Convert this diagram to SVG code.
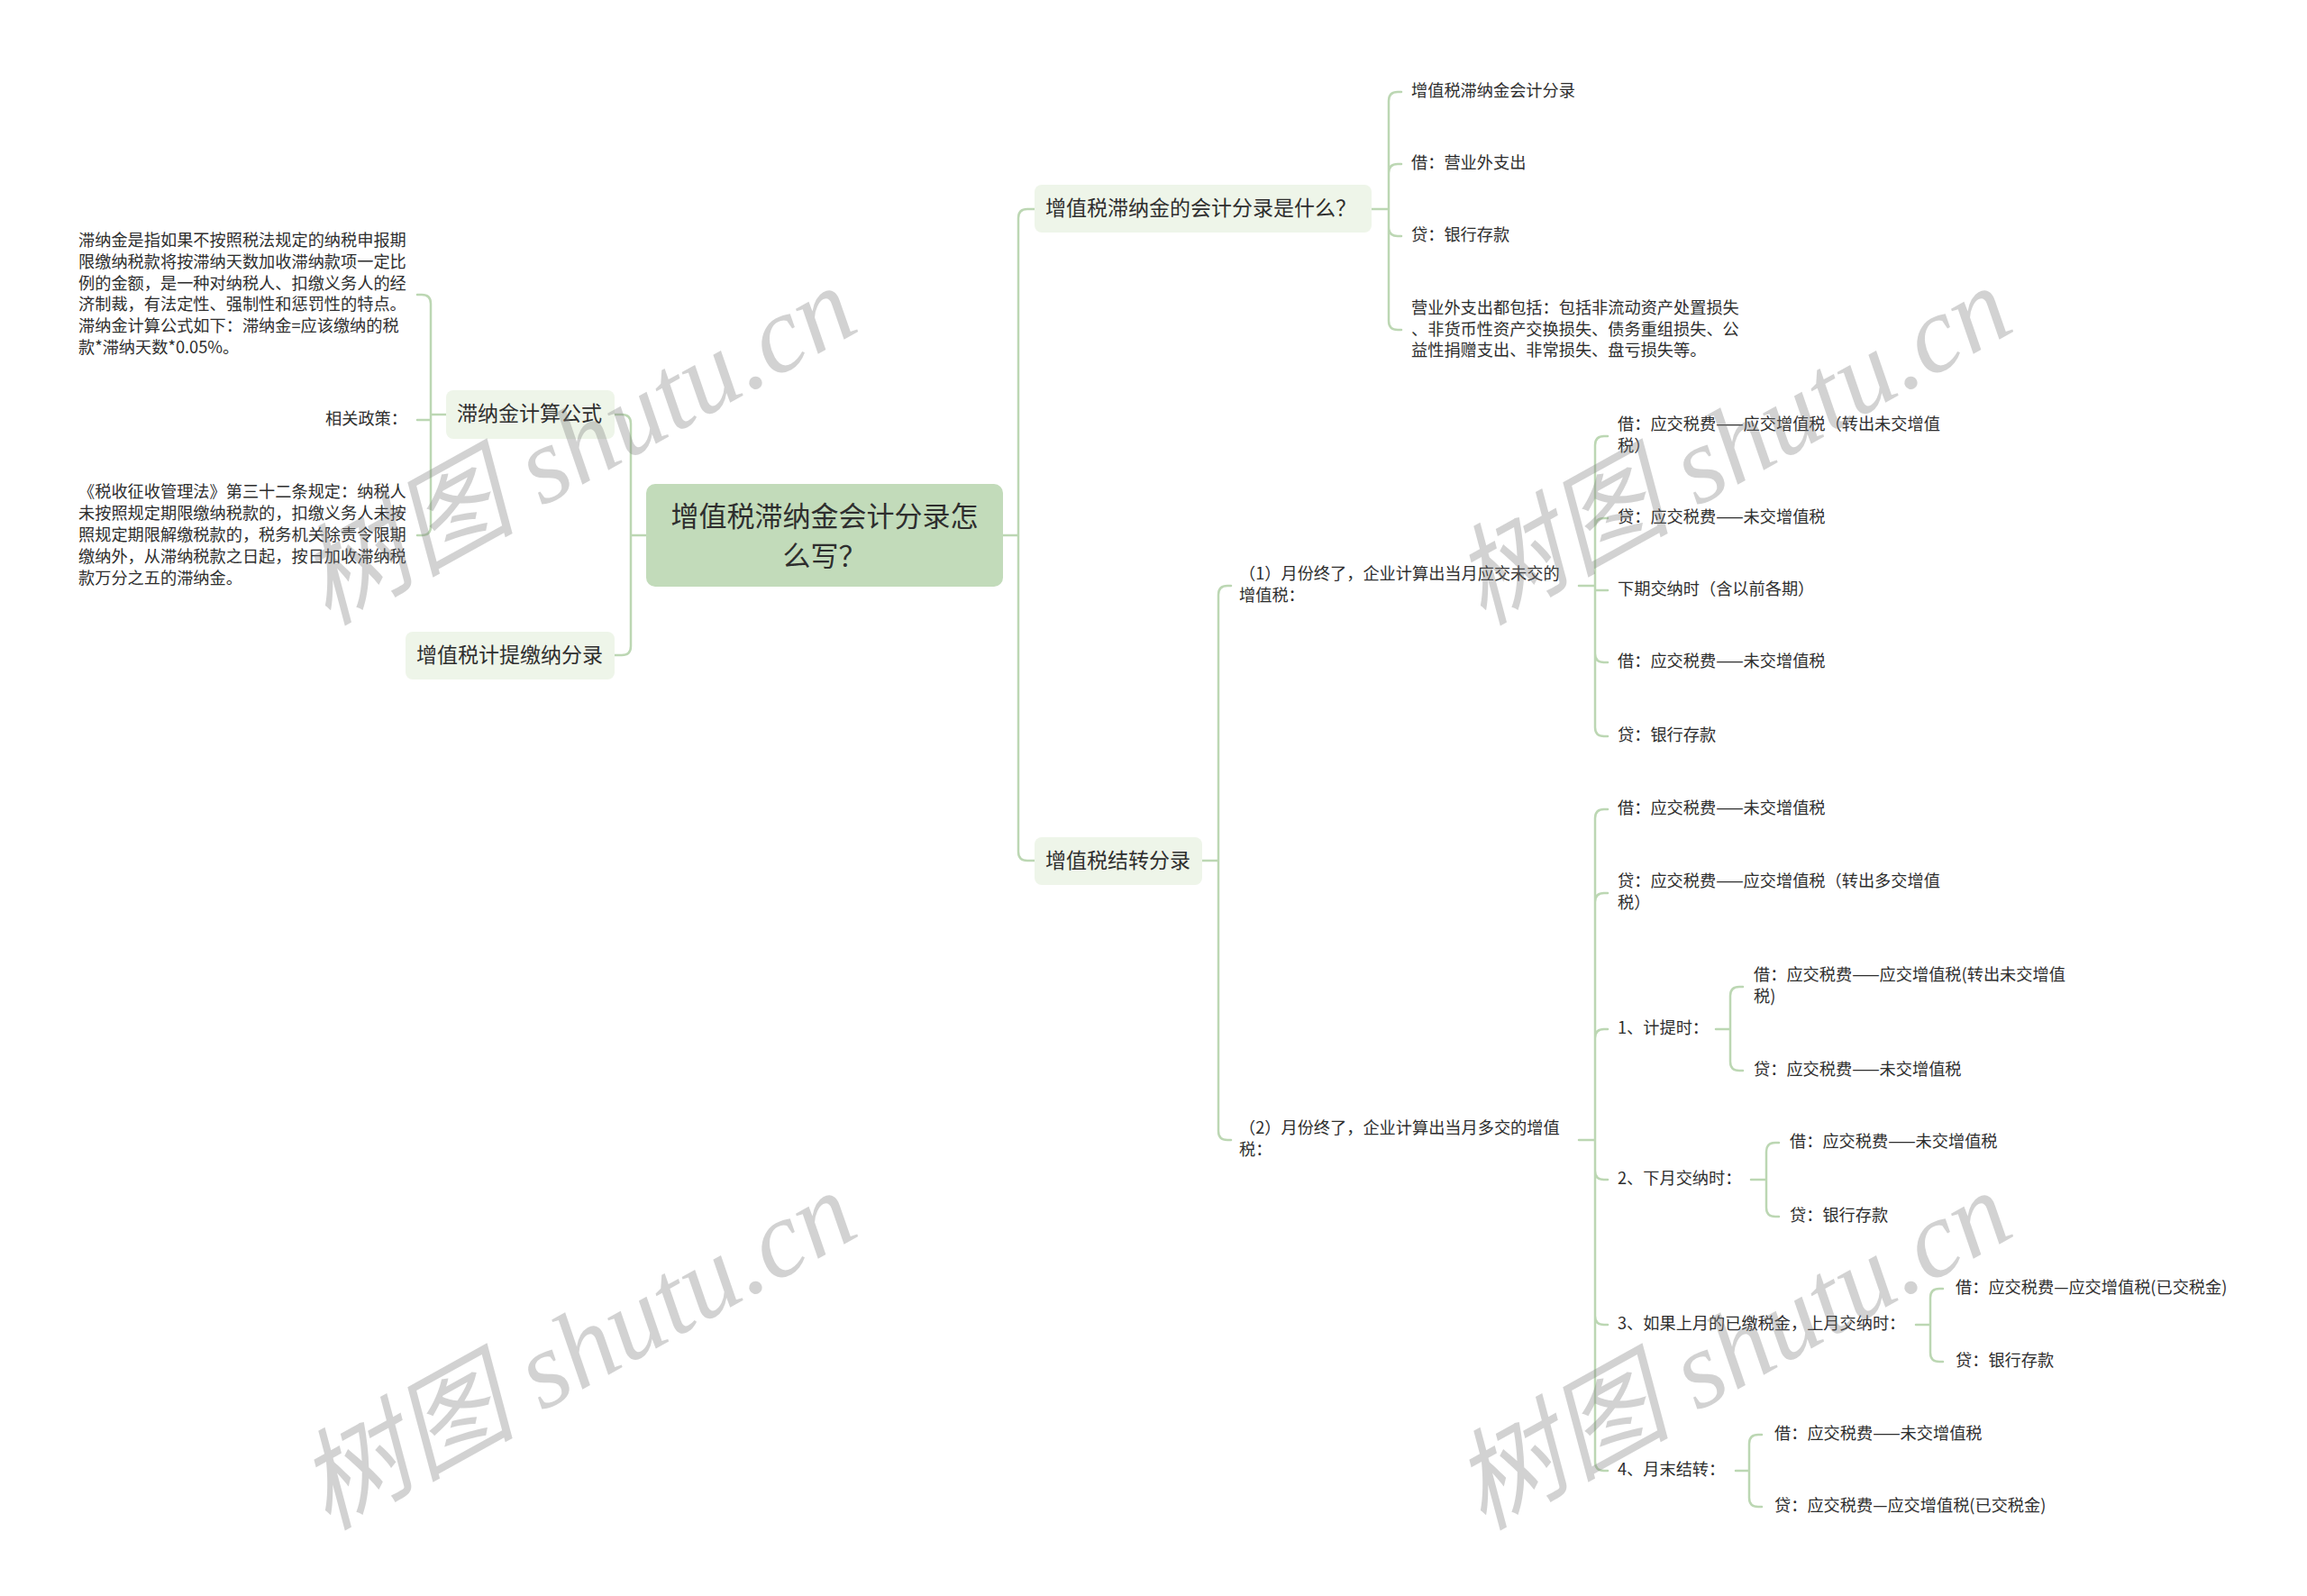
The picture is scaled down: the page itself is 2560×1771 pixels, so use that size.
<svg xmlns="http://www.w3.org/2000/svg" width="2560" height="1771" viewBox="0 0 2560 1771">
<style>
.ln{fill:none;stroke:#bcd7b3;stroke-width:2.5;stroke-linecap:round;stroke-linejoin:round}
.t{font-family:'Noto Sans CJK SC','Noto Sans',sans-serif;fill:#2e2e2e;dominant-baseline:central;transform:translate(0px,-3px)}
.s{font-size:18.2px}
.m{font-size:23px}
.r{font-size:31px}
.n1{fill:#eef5e9}
.root{fill:#c2dbba}
.wm{font-family:'Liberation Serif','Noto Sans CJK SC',serif;font-style:italic;font-size:121px;fill:#7a7a7a;opacity:0.33}
</style>
<rect width="2560" height="1771" fill="#ffffff"/>
<g id="connectors">
<path class="ln" d="M717,594 H700 M700,594 V470 Q700,460 690,460 H682 M700,594 V717 Q700,727 690,727 H682"/>
<path class="ln" d="M1113,594 H1130 M1130,594 V242 Q1130,232 1140,232 H1148 M1130,594 V945 Q1130,955 1140,955 H1148"/>
<path class="ln" d="M495,460 H478 M478,460 V337 Q478,327 468,327 H463 M478,460 V584 Q478,594 468,594 H463 M478,466 H463"/>
<path class="ln" d="M1522,232 H1541 M1541,232 V112 Q1541,102 1551,102 H1555 M1541,232 V192 Q1541,182 1551,182 H1555 M1541,232 V252 Q1541,262 1551,262 H1555 M1541,232 V356 Q1541,366 1551,366 H1555"/>
<path class="ln" d="M1334,955 H1352 M1352,955 V660 Q1352,650 1362,650 H1366 M1352,955 V1255 Q1352,1265 1362,1265 H1366"/>
<path class="ln" d="M1752,650 H1770 M1770,650 V494 Q1770,484 1780,484 H1784 M1770,650 V585 Q1770,575 1780,575 H1784 M1770,655 H1784 M1770,650 V725 Q1770,735 1780,735 H1784 M1770,650 V807 Q1770,817 1780,817 H1784"/>
<path class="ln" d="M1752,1265 H1770 M1770,1265 V908 Q1770,898 1780,898 H1784 M1770,1265 V1001 Q1770,991 1780,991 H1784 M1770,1265 V1152 Q1770,1142 1780,1142 H1784 M1770,1265 V1299 Q1770,1309 1780,1309 H1784 M1770,1265 V1460 Q1770,1470 1780,1470 H1784 M1770,1265 V1622 Q1770,1632 1780,1632 H1784"/>
<path class="ln" d="M1904,1142 H1920 M1920,1142 V1105 Q1920,1095 1930,1095 H1934 M1920,1142 V1178 Q1920,1188 1930,1188 H1934"/>
<path class="ln" d="M1943,1309 H1960 M1960,1309 V1278 Q1960,1268 1970,1268 H1974 M1960,1309 V1340 Q1960,1350 1970,1350 H1974"/>
<path class="ln" d="M2126,1470 H2142 M2142,1470 V1440 Q2142,1430 2152,1430 H2156 M2142,1470 V1501 Q2142,1511 2152,1511 H2156"/>
<path class="ln" d="M1926,1632 H1941 M1941,1632 V1602 Q1941,1592 1951,1592 H1955 M1941,1632 V1662 Q1941,1672 1951,1672 H1955"/>
</g>
<g id="root">
<rect class="root" x="717" y="537" width="396" height="114" rx="10"/>
<text class="t r" text-anchor="middle"><tspan x="915" y="573">增值税滞纳金会计分录怎</tspan><tspan x="915" y="617">么写？</tspan></text>
</g>
<g id="n-formula">
<rect class="n1" x="495" y="433" width="187" height="54" rx="8"/>
<text class="t m" x="507" y="460">滞纳金计算公式</text>
</g>
<g id="n-entry">
<rect class="n1" x="450" y="701" width="232" height="53" rx="8"/>
<text class="t m" x="462" y="727.5">增值税计提缴纳分录</text>
</g>
<g id="n-what">
<rect class="n1" x="1148" y="205" width="374" height="53" rx="8"/>
<text class="t m" x="1160" y="232">增值税滞纳金的会计分录是什么？</text>
</g>
<g id="n-transfer">
<rect class="n1" x="1148" y="929" width="186" height="53" rx="8"/>
<text class="t m" x="1160" y="955.5">增值税结转分录</text>
</g>
<g id="leaf-p1">
<text class="t s"><tspan x="87" y="268">滞纳金是指如果不按照税法规定的纳税申报期</tspan><tspan x="87" y="291.8">限缴纳税款将按滞纳天数加收滞纳款项一定比</tspan><tspan x="87" y="315.6">例的金额，是一种对纳税人、扣缴义务人的经</tspan><tspan x="87" y="339.4">济制裁，有法定性、强制性和惩罚性的特点。</tspan><tspan x="87" y="363.2">滞纳金计算公式如下：滞纳金=应该缴纳的税</tspan><tspan x="87" y="387">款*滞纳天数*0.05%。</tspan></text>
</g>
<g id="leaf-policy">
<text class="t s" x="452" y="466" text-anchor="end">相关政策：</text>
</g>
<g id="leaf-p2">
<text class="t s"><tspan x="87" y="547.4">《税收征收管理法》第三十二条规定：纳税人</tspan><tspan x="87" y="571.2">未按照规定期限缴纳税款的，扣缴义务人未按</tspan><tspan x="87" y="595">照规定期限解缴税款的，税务机关除责令限期</tspan><tspan x="87" y="618.8">缴纳外，从滞纳税款之日起，按日加收滞纳税</tspan><tspan x="87" y="642.6">款万分之五的滞纳金。</tspan></text>
</g>
<g id="leaf-r1">
<text class="t s" x="1566" y="102">增值税滞纳金会计分录</text>
<text class="t s" x="1566" y="182">借：营业外支出</text>
<text class="t s" x="1566" y="262">贷：银行存款</text>
<text class="t s"><tspan x="1566" y="342.7">营业外支出都包括：包括非流动资产处置损失</tspan><tspan x="1566" y="366.5">、非货币性资产交换损失、债务重组损失、公</tspan><tspan x="1566" y="390.3">益性捐赠支出、非常损失、盘亏损失等。</tspan></text>
</g>
<g id="sub-1">
<text class="t s"><tspan x="1375" y="638">（1）月份终了，企业计算出当月应交未交的</tspan><tspan x="1375" y="662">增值税：</tspan></text>
<text class="t s"><tspan x="1795" y="472">借：应交税费——应交增值税（转出未交增值</tspan><tspan x="1795" y="496">税）</tspan></text>
<text class="t s" x="1795" y="575">贷：应交税费——未交增值税</text>
<text class="t s" x="1795" y="655">下期交纳时（含以前各期）</text>
<text class="t s" x="1795" y="735">借：应交税费——未交增值税</text>
<text class="t s" x="1795" y="817">贷：银行存款</text>
</g>
<g id="sub-2">
<text class="t s"><tspan x="1375" y="1253">（2）月份终了，企业计算出当月多交的增值</tspan><tspan x="1375" y="1277">税：</tspan></text>
<text class="t s" x="1795" y="898">借：应交税费——未交增值税</text>
<text class="t s"><tspan x="1795" y="979">贷：应交税费——应交增值税（转出多交增值</tspan><tspan x="1795" y="1003">税）</tspan></text>
<text class="t s" x="1795" y="1142">1、计提时：</text>
<text class="t s" x="1795" y="1309">2、下月交纳时：</text>
<text class="t s" x="1795" y="1470">3、如果上月的已缴税金，上月交纳时：</text>
<text class="t s" x="1795" y="1632">4、月末结转：</text>
</g>
<g id="sub-2-1">
<text class="t s"><tspan x="1946" y="1083">借：应交税费——应交增值税(转出未交增值</tspan><tspan x="1946" y="1107">税)</tspan></text>
<text class="t s" x="1946" y="1188">贷：应交税费——未交增值税</text>
</g>
<g id="sub-2-2">
<text class="t s" x="1986" y="1268">借：应交税费——未交增值税</text>
<text class="t s" x="1986" y="1350">贷：银行存款</text>
</g>
<g id="sub-2-3">
<text class="t s" x="2170" y="1430">借：应交税费—应交增值税(已交税金)</text>
<text class="t s" x="2170" y="1511">贷：银行存款</text>
</g>
<g id="sub-2-4">
<text class="t s" x="1969" y="1592">借：应交税费——未交增值税</text>
<text class="t s" x="1969" y="1672">贷：应交税费—应交增值税(已交税金)</text>
</g>
<g id="watermarks">
<text class="wm" text-anchor="middle" transform="translate(660,530) rotate(-29)">树图 shutu.cn</text>
<text class="wm" text-anchor="middle" transform="translate(1942,530) rotate(-29)">树图 shutu.cn</text>
<text class="wm" text-anchor="middle" transform="translate(660,1534) rotate(-29)">树图 shutu.cn</text>
<text class="wm" text-anchor="middle" transform="translate(1942,1534) rotate(-29)">树图 shutu.cn</text>
</g>
</svg>
